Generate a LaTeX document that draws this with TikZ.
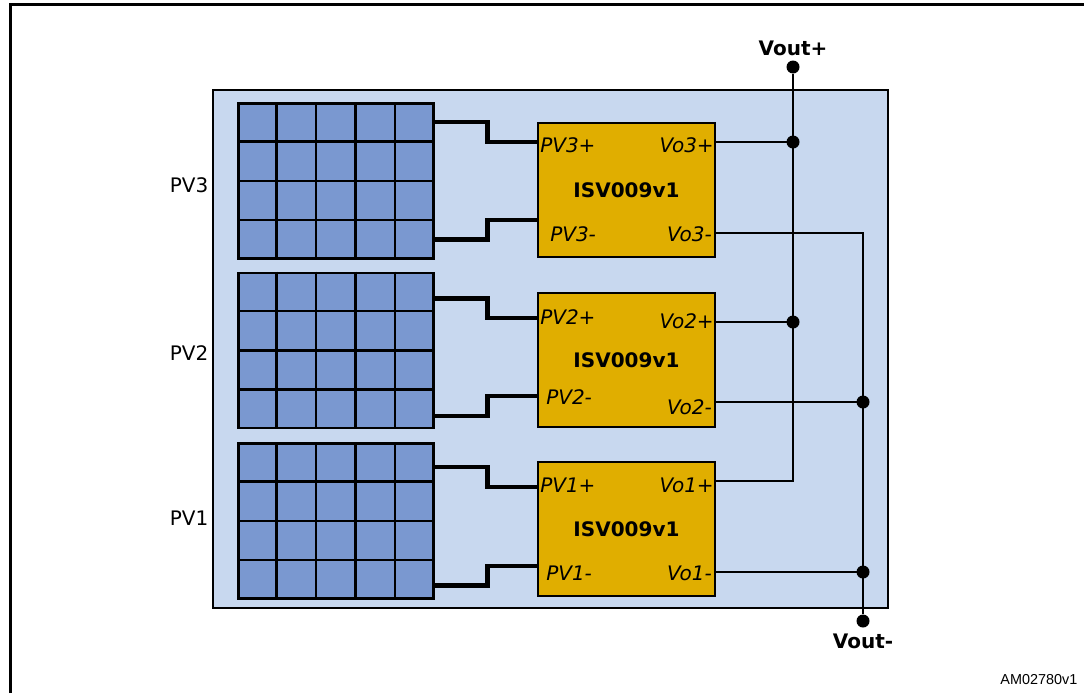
\documentclass[tikz,border=0pt]{standalone}
\usepackage{fontspec}
\setmainfont{DejaVu Sans}
\newfontfamily\tagfont{Liberation Sans}
\usetikzlibrary{calc,positioning}

\newlength\px
\setlength\px{0.75pt}
\newcommand\labelsize{\fontsize{15}{18}\selectfont}

\definecolor{boardblue}{RGB}{200,216,239}
\definecolor{cellblue}{RGB}{122,152,208}
\definecolor{convgold}{RGB}{224,174,0}

\tikzset{
  board/.style={draw=black, line width=2\px, fill=boardblue, inner sep=0pt},
  pvarray/.style={draw=black, line width=2.5\px, fill=cellblue, inner sep=0pt,
    minimum width=195\px, minimum height=155\px},
  cellline/.style={line width=2.5\px},
  conv/.style={draw=black, line width=2\px, fill=convgold, inner sep=0pt,
    minimum width=177\px, minimum height=134\px, font=\labelsize\bfseries},
  port/.style={font=\labelsize\itshape, inner sep=1\px},
  feed/.style={line width=4.5\px},
  bus/.style={line width=2\px},
  junc/.style={circle, fill=black, inner sep=0pt, minimum size=13\px},
}

\begin{document}
\begin{tikzpicture}[x=1\px, y=-1\px, font=\labelsize]

  \useasboundingbox (0,0) rectangle (1084,693);

  % Frame and board
  \draw[line width=3\px] (10,693) -- (10,4) -- (1084,4);
  \node[board, minimum width=675\px, minimum height=518\px, anchor=north west] (brd) at (212,89) {}; %

  % PV arrays
  \node[pvarray, anchor=north west] (pv3) at (237,102) {}; %
  \node[pvarray, below=12\px of pv3] (pv2) {}; %
  \node[pvarray, below=13\px of pv2] (pv1) {}; %
  \foreach \a in {pv3,pv2,pv1} {
    \foreach \i in {1,...,4}
      \draw[cellline] ($(\a.north west)!\i/5!(\a.north east)$) -- ($(\a.south west)!\i/5!(\a.south east)$);
    \foreach \j in {1,2,3}
      \draw[cellline] ($(\a.north west)!\j/4!(\a.south west)$) -- ($(\a.north east)!\j/4!(\a.south east)$);
  }

  % PV labels
  \node[left=24\px of pv3, yshift=-4\px] (l3) {PV3}; %
  \node[left=24\px of pv2, yshift=-3\px] (l2) {PV2}; %
  \node[left=24\px of pv1, yshift=3\px] (l1) {PV1}; %

  % Converters
  \node[conv, anchor=north west] (c3) at (537,122) {ISV009v1}; %
  \node[conv, below=34\px of c3] (c2) {ISV009v1}; %
  \node[conv, below=33\px of c2] (c1) {ISV009v1}; %

  % Ports
  \node[port, anchor=west] (c3pp) at ($(c3.north west)+(2,23)$) {PV3+}; %
  \node[port, anchor=west] (c3pm) at ($(c3.north west)+(12,112)$) {PV3-}; %
  \node[port, anchor=east] (c3vp) at ($(c3.north east)+(-1,23)$) {Vo3+}; %
  \node[port, anchor=east] (c3vm) at ($(c3.north east)+(-3,112)$) {Vo3-}; %

  \node[port, anchor=west] (c2pp) at ($(c2.north west)+(2,25)$) {PV2+}; %
  \node[port, anchor=west] (c2pm) at ($(c2.north west)+(8,105)$) {PV2-}; %
  \node[port, anchor=east] (c2vp) at ($(c2.north east)+(-1,29)$) {Vo2+}; %
  \node[port, anchor=east] (c2vm) at ($(c2.north east)+(-3,115)$) {Vo2-}; %

  \node[port, anchor=west] (c1pp) at ($(c1.north west)+(2,24)$) {PV1+}; %
  \node[port, anchor=west] (c1pm) at ($(c1.north west)+(8,112)$) {PV1-}; %
  \node[port, anchor=east] (c1vp) at ($(c1.north east)+(-1,24)$) {Vo1+}; %
  \node[port, anchor=east] (c1vm) at ($(c1.north east)+(-3,112)$) {Vo1-}; %

  % Feeds from the arrays
  \draw[feed] ($(pv3.north east)+(0,20)$) -- ++(53,0) |- ($(c3.north west)+(0,20)$);
  \draw[feed] ($(pv3.south east)+(0,-20)$) -- ++(53,0) |- ($(c3.north west)+(0,98)$);
  \draw[feed] ($(pv2.north east)+(0,27)$) -- ++(53,0) |- ($(c2.north west)+(0,26)$);
  \draw[feed] ($(pv2.south east)+(0,-13)$) -- ++(53,0) |- ($(c2.north west)+(0,104)$);
  \draw[feed] ($(pv1.north east)+(0,25)$) -- ++(53,0) |- ($(c1.north west)+(0,26)$);
  \draw[feed] ($(pv1.south east)+(0,-14)$) -- ++(53,0) |- ($(c1.north west)+(0,105)$);

  % Output ends
  \coordinate (c3op) at ($(c3.north east)+(0,20)$);
  \coordinate (c3om) at ($(c3.north east)+(0,111)$);
  \coordinate (c2op) at ($(c2.north east)+(0,30)$);
  \coordinate (c2om) at ($(c2.north east)+(0,110)$);
  \coordinate (c1op) at ($(c1.north east)+(0,20)$);
  \coordinate (c1om) at ($(c1.north east)+(0,111)$);

  % Vout+
  \node[junc] (vp) at (793,67) {}; %
  \node[above=0pt of vp, font=\labelsize\bfseries] (vpl) {Vout+}; %
  \coordinate (k1p) at (vp |- c1op);
  \draw[bus] (vp) -- (k1p) -- (c1op);
  \draw[bus] (c3op) -- (vp |- c3op);
  \draw[bus] (c2op) -- (vp |- c2op);
  \node[junc] (j3p) at (vp |- c3op) {}; %
  \node[junc] (j2p) at (vp |- c2op) {}; %

  % Vout-
  \node[junc] (vm) at (863,621) {}; %
  \node[below=1\px of vm, font=\labelsize\bfseries] (vml) {Vout-}; %
  \coordinate (k3m) at (vm |- c3om);
  \draw[bus] (c3om) -- (k3m) -- (vm);
  \draw[bus] (c2om) -- (vm |- c2om);
  \draw[bus] (c1om) -- (vm |- c1om);
  \node[junc] (j2m) at (vm |- c2om) {}; %
  \node[junc] (j1m) at (vm |- c1om) {}; %

  % Tag
  \node[anchor=east, font=\tagfont\fontsize{10.8}{13}\selectfont] (tag) at (1082,680) {AM02780v1}; %

\end{tikzpicture}
\end{document}
